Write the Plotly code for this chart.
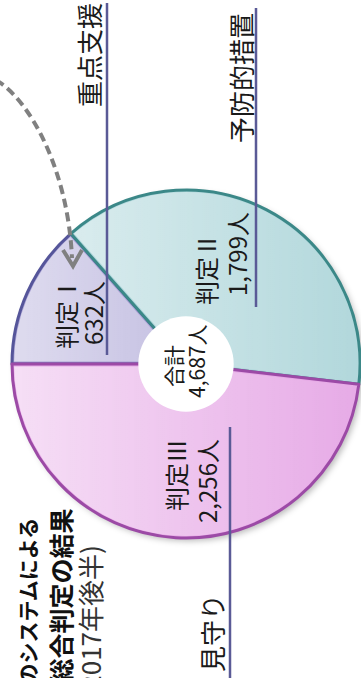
import base64
import math
import plotly.graph_objects as go

# ---------------- data ----------------
labels = ["判定Ⅰ", "判定Ⅱ", "判定Ⅲ"]
values = [632, 1799, 2256]
unit = "人"
total_label = "合計"
category_names = ["重点支援", "予防的措置", "見守り"]
title_lines = ["のシステムによる", "総合判定の結果", "(2017年後半)"]

# ---------------- style ----------------
fill_colors = ["#aaa3d5", "#b2d8dc", "#e7abe7"]
edge_colors = ["#55559a", "#3b8888", "#9c4aa6"]
guide_color = "#5a5a96"
FONT = "Noto Sans CJK JP"

W, H = 361, 678
cx, cy, R = 186, 364, 174
hole = 0.26
rotation = -90

total = sum(values)

fig = go.Figure()
fig.add_trace(go.Scatter(x=[], y=[], showlegend=False, hoverinfo="skip"))
fig.add_trace(go.Pie(
    labels=labels, values=values, sort=False, direction="clockwise",
    rotation=rotation, hole=hole, textinfo="none", hoverinfo="skip",
    showlegend=False,
    marker=dict(colors=fill_colors, line=dict(color=edge_colors, width=3)),
    domain=dict(x=[(cx - R) / W, (cx + R) / W],
                y=[1 - (cy + R) / H, 1 - (cy - R) / H]),
))

# gradient overlay (white -> transparent, left to right), masked on slice borders
cum = 0
mask_lines = ""
for v in values:
    a = math.radians(rotation + 360 * cum / total)
    mask_lines += (f'<line x1="{cx}" y1="{cy}" x2="{cx + (R + 5) * math.sin(a):.1f}" '
                   f'y2="{cy - (R + 5) * math.cos(a):.1f}" stroke="black" stroke-width="5"/>')
    cum += v
svg_over = f'''<svg xmlns="http://www.w3.org/2000/svg" width="{W}" height="{H}" viewBox="0 0 {W} {H}" preserveAspectRatio="none">
<defs>
<linearGradient id="g" x1="{cx - R}" y1="0" x2="{cx + R}" y2="0" gradientUnits="userSpaceOnUse">
<stop offset="0" stop-color="#ffffff" stop-opacity="0.62"/>
<stop offset="1" stop-color="#ffffff" stop-opacity="0"/>
</linearGradient>
<mask id="m"><rect x="0" y="0" width="{W}" height="{H}" fill="white"/>{mask_lines}</mask>
</defs>
<circle cx="{cx}" cy="{cy}" r="{R - 2}" fill="url(#g)" mask="url(#m)"/>
<circle cx="{cx}" cy="{cy}" r="{R * hole + 2.5:.1f}" fill="#ffffff"/>
</svg>'''
svg_under = f'''<svg xmlns="http://www.w3.org/2000/svg" width="{W}" height="{H}" viewBox="0 0 {W} {H}" preserveAspectRatio="none">
<defs><filter id="b" x="-20%" y="-20%" width="140%" height="140%"><feGaussianBlur stdDeviation="3"/></filter></defs>
<circle cx="{cx + 3}" cy="{cy + 3}" r="{R}" fill="#000000" fill-opacity="0.28" filter="url(#b)"/>
<circle cx="{cx}" cy="{cy}" r="{R * hole + 1}" fill="#ffffff"/>
</svg>'''


def uri(s):
    return "data:image/svg+xml;base64," + base64.b64encode(s.encode("utf-8")).decode()


images = [
    dict(source=uri(svg_under), xref="paper", yref="paper", x=0, y=1, sizex=1, sizey=1,
         xanchor="left", yanchor="top", sizing="stretch", layer="below"),
    dict(source=uri(svg_over), xref="paper", yref="paper", x=0, y=1, sizex=1, sizey=1,
         xanchor="left", yanchor="top", sizing="stretch", layer="above"),
]

ann = []


def txt(text, x, y, size, yanchor="middle", color="#1a1a1a"):
    ann.append(dict(text=text, x=x, y=y, xref="x", yref="y", showarrow=False,
                    textangle=-90, xanchor="center", yanchor=yanchor,
                    font=dict(family=FONT, size=size, color=color)))


val_txt = [f"{v:,}{unit}" for v in values]
# slice labels
txt(labels[0], 65, 313, 24)
txt(val_txt[0], 92, 313, 24)
txt(labels[1], 205, 269, 24)
txt(val_txt[1], 236, 254, 24)
txt(labels[2], 175, 475, 24)
txt(val_txt[2], 206, 481, 24)
# total in hole
txt(total_label, 173, 366, 21)
txt(f"{total:,}{unit}", 196, 362, 21)
# category guide labels
txt(category_names[0], 88, 1, 26, yanchor="top")
txt(category_names[1], 240, 11, 26, yanchor="top")
txt(category_names[2], 211, 592, 26, yanchor="top")
# title block (runs off the bottom edge, as in the source)
txt(f"<b>{title_lines[0]}</b>", 26, 516, 21, yanchor="top", color="#111111")
txt(f"<b>{title_lines[1]}</b>", 59, 507, 25, yanchor="top", color="#111111")
txt(title_lines[2], 89, 544, 26, yanchor="top", color="#333333")

shapes = [
    dict(type="line", xref="x", yref="y", x0=107, x1=107, y0=3, y1=355,
         line=dict(color=guide_color, width=2.5)),
    dict(type="line", xref="x", yref="y", x0=256, x1=256, y0=8, y1=307,
         line=dict(color=guide_color, width=2.5)),
    dict(type="line", xref="x", yref="y", x0=230, x1=230, y0=427, y1=H,
         line=dict(color=guide_color, width=2.5)),
    # dashed curved arrow
    dict(type="path", xref="x", yref="y",
         path="M -4 80 C 30 100, 68 170, 72 258",
         line=dict(color="#808080", width=4, dash="9px,5px")),
    dict(type="path", xref="x", yref="y",
         path="M 63 250 L 73 266 L 82 250",
         line=dict(color="#808080", width=4)),
]

fig.update_layout(
    width=W, height=H, autosize=False,
    margin=dict(l=0, r=0, t=0, b=0),
    paper_bgcolor="white", plot_bgcolor="rgba(0,0,0,0)",
    xaxis=dict(range=[0, W], visible=False, fixedrange=True),
    yaxis=dict(range=[H, 0], visible=False, fixedrange=True),
    annotations=ann, shapes=shapes, images=images,
    showlegend=False,
)

fig.write_html("out.html", config={"displayModeBar": False})
